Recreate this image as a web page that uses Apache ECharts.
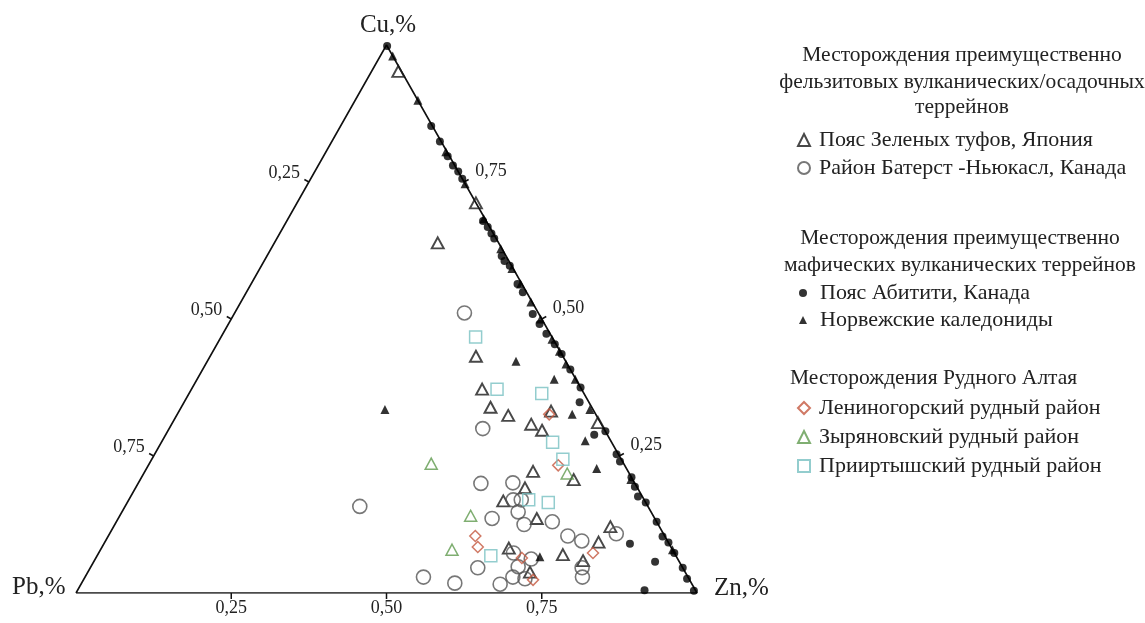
<!DOCTYPE html>
<html><head><meta charset="utf-8">
<script src="https://cdn.jsdelivr.net/npm/echarts@6/dist/echarts.min.js"></script>
<style>html,body{margin:0;padding:0;background:#fff}#c{width:1145px;height:623px}</style>
</head><body><div id="c"></div>
<script>
// Ternary data as [Cu %, Zn %]  (Pb % = 100 - Cu - Zn)
const greenTuff = [[95.2,4.3],[71.2,28.8],[63.9,26.3],[43.2,42.8],[37.2,46.8],[33.9,49.8],[32.4,53.4],[30.8,57.9],[29.7,60.2],[33.2,59.9],[31.1,68.5],[22.2,62.5],[19.2,62.7],[16.8,60.4],[13.6,67.4],[20.7,69.8],[12.1,80.0],[9.3,79.5],[7.0,74.9],[5.9,78.7],[8.2,65.6],[3.8,71.2]];
const bathurst = [[51.1,37.0],[30.0,50.5],[15.8,37.8],[2.9,54.5],[1.8,60.1],[20.0,55.2],[20.1,60.3],[17.0,61.9],[17.0,63.2],[14.8,63.8],[13.6,60.2],[12.5,65.9],[13.0,70.2],[10.4,74.0],[9.5,76.7],[10.8,81.6],[7.3,66.8],[6.2,70.2],[4.6,62.4],[1.6,67.5],[2.9,68.9],[4.8,68.8],[2.6,71.0],[4.6,79.2],[2.9,80.1]];
const abitibi = [[99.8,0.2],[85.2,14.6],[82.4,17.4],[79.7,20.0],[78.0,21.7],[76.9,23.1],[75.6,24.4],[67.9,31.6],[66.8,32.9],[65.6,34.1],[64.7,35.0],[61.5,37.8],[60.6,38.7],[59.7,40.0],[56.4,42.9],[54.9,44.5],[50.9,48.1],[49.1,50.1],[47.3,52.1],[45.4,54.4],[43.6,56.4],[40.8,59.2],[37.5,62.5],[34.8,63.7],[28.9,69.0],[29.5,70.5],[25.3,74.4],[24.0,75.6],[21.1,78.9],[19.4,80.3],[17.6,81.7],[16.5,83.5],[13.0,87.0],[10.3,89.3],[9.2,90.8],[7.3,92.7],[4.6,95.4],[2.6,97.1],[0.4,99.3],[9.0,84.7],[5.7,90.4],[0.5,91.3]];
const norway = [[33.5,33.0],[42.3,49.7],[39.0,57.5],[32.6,63.6],[27.8,68.1],[22.7,72.5],[6.6,71.4],[98.0,2.0],[89.9,10.1],[80.5,19.3],[74.7,25.3],[68.3,31.5],[62.8,37.0],[59.2,40.6],[56.4,43.4],[53.1,46.7],[50.0,49.8],[46.3,53.5],[44.1,55.8],[41.8,58.0],[39.0,60.9],[33.5,66.0],[20.7,79.0],[7.9,92.1]];
const leninogorsk = [[32.6,59.9],[23.3,66.0],[10.4,59.1],[8.4,60.5],[6.4,68.6],[2.4,72.4],[7.3,79.6]];
const zyryanovsk = [[23.6,45.4],[14.1,56.5],[7.9,56.6],[21.8,68.2]];
const priirtysh = [[46.7,41.0],[37.2,49.2],[36.4,56.8],[27.5,63.0],[24.4,66.2],[17.0,64.4],[16.5,67.8],[6.8,63.4]];

const seriesNames = ['Пояс Зеленых туфов, Япония','Район Батерст -Ньюкасл, Канада','Пояс Абитити, Канада','Норвежские каледониды','Лениногорский рудный район','Зыряновский рудный район','Прииртышский рудный район'];
const groupTitles = [['Месторождения преимущественно','фельзитовых вулканических/осадочных','террейнов'],['Месторождения преимущественно','мафических вулканических террейнов'],['Месторождения Рудного Алтая']];
const cornerLabels = ['Cu,%','Pb,%','Zn,%'];
const tickValues = [25,50,75];
const tickLabels = ['0,25','0,50','0,75'];
const corners = [[0,0],[0,100],[100,0],[0,0]]; // Pb, Zn, Cu corners as [Cu, Zn]

function tern(p){ return [(p[1] + p[0]/2)/100, p[0]/100]; }
const FONT = '"Liberation Serif", "Times New Roman", serif';

function sc(name, data, symbol, size, itemStyle, z){
  return {type:'scatter', name, data:data.map(tern), symbol, symbolSize:size, itemStyle, z:z||3, silent:true};
}
// tick series: side 0 bottom (Zn), 1 left (Pb), 2 right (Cu)
const tickData = [];
tickValues.forEach((v,i)=>{
  tickData.push(tern([0, v]).concat([0,i]));
  tickData.push(tern([100-v, 0]).concat([1,i]));
  tickData.push(tern([v, 100-v]).concat([2,i]));
});
function renderTick(params, api){
  const p = api.coord([api.value(0), api.value(1)]);
  const side = api.value(2), lbl = tickLabels[api.value(3)];
  let dx, dy, tx, ty, al;
  if (side===0){ dx=0; dy=6; tx=p[0]; ty=p[1]+15; al='center'; }
  else if (side===1){ dx=-4.5; dy=-2.5; tx=p[0]-9; ty=p[1]-9; al='right'; }
  else { dx=4.5; dy=-2.5; tx=p[0]+11; ty=p[1]-11; al='left'; }
  return {type:'group', children:[
    {type:'line', shape:{x1:p[0], y1:p[1], x2:p[0]+dx, y2:p[1]+dy}, style:{stroke:'#111', lineWidth:1.5}},
    {type:'text', x:tx, y:ty, style:{text:lbl, font:'18px '+FONT, fill:'#222', align:al, textAlign:al, verticalAlign:'middle', textVerticalAlign:'middle'}}
  ]};
}

const graphics = [];
function gtext(x,y,text,size,align){
  graphics.push({type:'text', x, y, silent:true, style:{text, font:size+'px '+FONT, fill:'#222', align, textAlign:align, verticalAlign:'middle', textVerticalAlign:'middle'}});
}
gtext(388,25,cornerLabels[0],25,'center');
gtext(12,587,cornerLabels[1],25,'left');
gtext(714,588,cornerLabels[2],25,'left');
[55,82,107].forEach((y,i)=>gtext(962,y,groupTitles[0][i],21.5,'center'));
[238,265].forEach((y,i)=>gtext(960,y,groupTitles[1][i],21.5,'center'));
gtext(790,378,groupTitles[2][0],21.5,'left');

const legendText = {fontFamily:FONT, fontSize:22, color:'#222', lineHeight:22, padding:[0,0,0,4]};
const option = {
  animation:false,
  backgroundColor:'#fff',
  grid:{left:76, top:45, width:621, height:548},
  xAxis:{type:'value', min:0, max:1, show:false},
  yAxis:{type:'value', min:0, max:1, show:false},
  legend:[
    {data:seriesNames.slice(0,2), orient:'vertical', left:797, top:129, padding:0, itemWidth:12, itemHeight:12, itemGap:6, selectedMode:false, textStyle:legendText},
    {data:seriesNames.slice(2,4), orient:'vertical', left:799, top:282, padding:0, itemWidth:8, itemHeight:8, itemGap:5, selectedMode:false, textStyle:Object.assign({},legendText,{padding:[0,0,0,8]})},
    {data:seriesNames.slice(4,7), orient:'vertical', left:797, top:397, padding:0, itemWidth:12, itemHeight:12, itemGap:7, selectedMode:false, textStyle:legendText}
  ],
  graphic:graphics,
  series:[
    {type:'line', data:corners.map(tern), symbol:'none', silent:true, lineStyle:{color:'#111', width:1.6}, z:1},
    {type:'custom', data:tickData, renderItem:renderTick, silent:true, z:2},
    sc(seriesNames[0], greenTuff, 'triangle', [12,11], {color:'rgba(0,0,0,0)', borderColor:'#1a1a1a', borderWidth:1.9}),
    sc(seriesNames[1], bathurst, 'circle', 14, {color:'rgba(0,0,0,0)', borderColor:'#555', borderWidth:1.6}),
    sc(seriesNames[2], abitibi, 'circle', 8, {color:'#000'}, 4),
    sc(seriesNames[3], norway, 'triangle', [9,9], {color:'#000'}, 4),
    sc(seriesNames[4], leninogorsk, 'diamond', [11,11], {color:'rgba(0,0,0,0)', borderColor:'#c4573f', borderWidth:1.5}),
    sc(seriesNames[5], zyryanovsk, 'triangle', [12,11], {color:'rgba(0,0,0,0)', borderColor:'#5f9a4e', borderWidth:1.5}),
    sc(seriesNames[6], priirtysh, 'rect', [12,12], {color:'rgba(0,0,0,0)', borderColor:'#78c0c2', borderWidth:1.5})
  ]
};
const chart = echarts.init(document.getElementById('c'), null, {renderer:'canvas'});
chart.setOption(option);
</script></body></html>
